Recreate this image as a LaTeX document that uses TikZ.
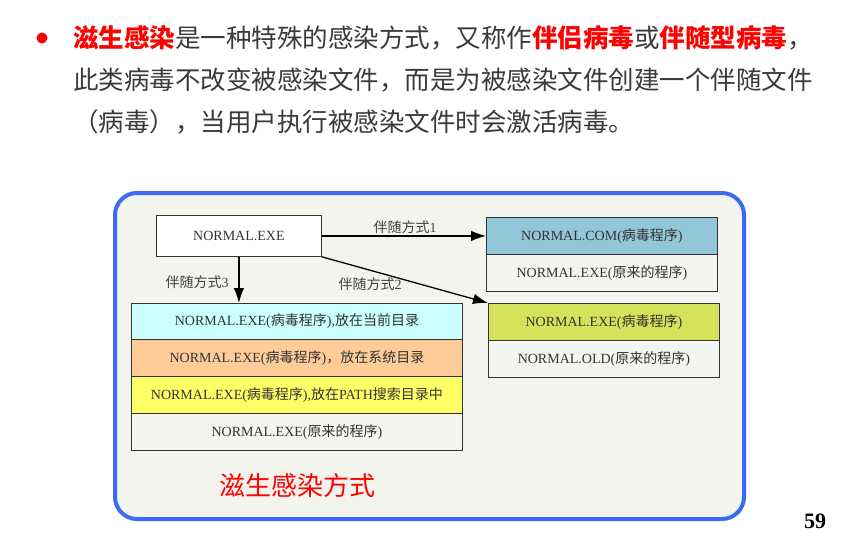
\documentclass[tikz,border=0pt]{standalone}
\usepackage{fontspec}
\usetikzlibrary{arrows.meta}
\setmainfont{Liberation Serif}
\newfontfamily\cjk{Noto Sans CJK SC}
\newcommand\zh[1]{{\cjk #1}}
\definecolor{bodygray}{HTML}{3A3A3A}
\definecolor{alertred}{HTML}{FF0000}
\definecolor{panelfill}{HTML}{F4F4EF}
\definecolor{panelblue}{HTML}{3A6BF2}
\definecolor{comblue}{HTML}{93C6D8}
\definecolor{exegreen}{HTML}{D5E35A}
\definecolor{rowcyan}{HTML}{CCFFFF}
\definecolor{roworange}{HTML}{FFCC99}
\definecolor{rowyellow}{HTML}{FFFF66}
\definecolor{rowplain}{HTML}{F4F4F0}
\tikzset{
  headline/.style={anchor=west, inner sep=0pt, text=bodygray,
    font=\cjk\fontsize{25.5}{28}\selectfont},
  filebox/.style={draw=black!80, line width=0.8pt, anchor=north west,
    inner sep=0pt, text=black!80, font=\fontsize{14}{16}\selectfont},
  conn/.style={-{Latex[length=15pt,width=10.5pt]}, line width=1.3pt, black},
  wayl/.style={inner sep=0pt, text=black!75, font=\fontsize{14}{16}\selectfont},
}
\begin{document}
\begin{tikzpicture}[x=1pt,y=-1pt]
\useasboundingbox (0,0) rectangle (843,538);

% heading paragraph
\fill[alertred] (42,38) circle (5.5);
\node[headline] (l1) at (73,38) {\textcolor{alertred}{\bfseries 滋生感染}是一种特殊的感染方式，又称作\textcolor{alertred}{\bfseries 伴侣病毒}或\textcolor{alertred}{\bfseries 伴随型病毒}，};
\node[headline] (l2) at (73,80) {此类病毒不改变被感染文件，而是为被感染文件创建一个伴随文件};
\node[headline] (l3) at (73,122) {（病毒），当用户执行被感染文件时会激活病毒。};

% rounded panel
\draw[panelblue, line width=4pt, fill=panelfill, rounded corners=22pt]
  (115,193) rectangle (744,519);

% original file
\node[filebox, fill=white, minimum width=165pt, minimum height=41pt]
  (exe) at (156,215) {NORMAL.EXE};

% way 1
\node[filebox, fill=comblue, minimum width=231pt, minimum height=37pt]
  (com) at (486,217) {NORMAL.COM(\zh{病毒程序})};
\node[filebox, fill=rowplain, minimum width=231pt, minimum height=37pt]
  (com2) at (486,254) {NORMAL.EXE(\zh{原来的程序})};

% way 2
\node[filebox, fill=exegreen, minimum width=231pt, minimum height=37pt]
  (grn) at (488,303) {NORMAL.EXE(\zh{病毒程序})};
\node[filebox, fill=rowplain, minimum width=231pt, minimum height=37pt]
  (old) at (488,340) {NORMAL.OLD(\zh{原来的程序})};

% way 3
\node[filebox, fill=rowcyan, minimum width=331pt, minimum height=36pt]
  (r1) at (131,303) {NORMAL.EXE(\zh{病毒程序}),\zh{放在当前目录}};
\node[filebox, fill=roworange, minimum width=331pt, minimum height=37pt]
  (r2) at (131,339) {NORMAL.EXE(\zh{病毒程序})\zh{，放在系统目录}};
\node[filebox, fill=rowyellow, minimum width=331pt, minimum height=37pt]
  (r3) at (131,376) {NORMAL.EXE(\zh{病毒程序}),\zh{放在}PATH\zh{搜索目录中}};
\node[filebox, fill=rowplain, minimum width=331pt, minimum height=37pt]
  (r4) at (131,413) {NORMAL.EXE(\zh{原来的程序})};

% connectors
\draw[conn] (exe.east) -- (com.west);
\draw[conn] (exe.south east) -- (grn.north west);
\draw[conn] (exe.south) -- (exe.south |- r1.north);

\node[wayl] (w1) at (405,227) {\zh{伴随方式}1};
\node[wayl] (w2) at (370,284) {\zh{伴随方式}2};
\node[wayl] (w3) at (197,282) {\zh{伴随方式}3};

% caption and page number
\node[inner sep=0pt, text=alertred, font=\cjk\fontsize{26}{28}\selectfont]
  (cap) at (297,486) {滋生感染方式};
\node[inner sep=0pt, font=\bfseries\fontsize{22}{24}\selectfont]
  (pg) at (815,521) {59};
\end{tikzpicture}
\end{document}
